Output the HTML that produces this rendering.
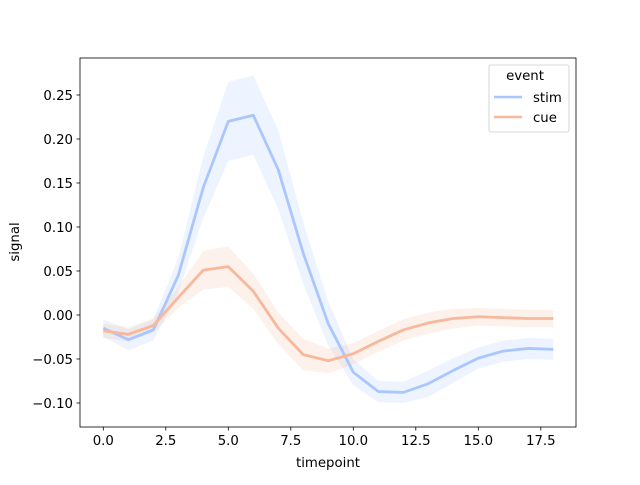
<!DOCTYPE html>
<html><head><meta charset="utf-8"><style>
body{margin:0;background:#fff}
svg text{font-family:"DejaVu Sans","Liberation Sans",sans-serif;font-size:13.3px;fill:#000}
</style></head><body>
<svg id="s" width="640" height="480" xmlns="http://www.w3.org/2000/svg">
<g id="bands"></g>
<g id="lines"></g>
<rect x="80" y="58" width="496" height="369" fill="none" stroke="#000" stroke-width="0.8"/>
<g stroke="#000" stroke-width="0.8">
<line x1="103.3" y1="427" x2="103.3" y2="430.5"/><line x1="165.8" y1="427" x2="165.8" y2="430.5"/><line x1="228.3" y1="427" x2="228.3" y2="430.5"/><line x1="290.8" y1="427" x2="290.8" y2="430.5"/><line x1="353.3" y1="427" x2="353.3" y2="430.5"/><line x1="415.8" y1="427" x2="415.8" y2="430.5"/><line x1="478.3" y1="427" x2="478.3" y2="430.5"/><line x1="540.8" y1="427" x2="540.8" y2="430.5"/>
<line x1="76.5" y1="95" x2="80" y2="95"/><line x1="76.5" y1="139" x2="80" y2="139"/><line x1="76.5" y1="183" x2="80" y2="183"/><line x1="76.5" y1="227" x2="80" y2="227"/><line x1="76.5" y1="271" x2="80" y2="271"/><line x1="76.5" y1="315" x2="80" y2="315"/><line x1="76.5" y1="359" x2="80" y2="359"/><line x1="76.5" y1="403" x2="80" y2="403"/>
</g>
<g text-anchor="middle">
<text x="103.3" y="445">0.0</text><text x="165.8" y="445">2.5</text><text x="228.3" y="445">5.0</text><text x="290.8" y="445">7.5</text><text x="353.3" y="445">10.0</text><text x="415.8" y="445">12.5</text><text x="478.3" y="445">15.0</text><text x="540.8" y="445">17.5</text>
<text x="328" y="467">timepoint</text>
</g>
<g text-anchor="end">
<text x="73" y="100">0.25</text><text x="73" y="144">0.20</text><text x="73" y="188">0.15</text><text x="73" y="232">0.10</text><text x="73" y="276">0.05</text><text x="73" y="320">0.00</text><text x="73" y="364">−0.05</text><text x="73" y="408">−0.10</text>
</g>
<text transform="translate(19,242) rotate(-90)" text-anchor="middle">signal</text>
<rect x="489" y="65" width="80" height="67" rx="2" fill="#fff" fill-opacity="0.8" stroke="#ccc" stroke-width="0.8"/>
<text x="525" y="80" text-anchor="middle">event</text>
<line x1="494" y1="97" x2="522" y2="97" stroke="#aac7fd" stroke-width="2.5"/>
<text x="533" y="102">stim</text>
<line x1="494" y1="117" x2="522" y2="117" stroke="#f7b89c" stroke-width="2.5"/>
<text x="533" y="122">cue</text>
</svg>
<script>
var X=t=>103.3+25*t, Y=v=>315-880*v;
var stim=[-0.015,-0.028,-0.017,0.045,0.145,0.22,0.227,0.165,0.07,-0.01,-0.065,-0.087,-0.088,-0.078,-0.063,-0.049,-0.041,-0.038,-0.039];
var sw=[0.01,0.012,0.012,0.02,0.035,0.045,0.045,0.045,0.035,0.025,0.015,0.012,0.012,0.015,0.014,0.012,0.012,0.012,0.012];
var cue=[-0.018,-0.022,-0.012,0.02,0.051,0.055,0.027,-0.015,-0.045,-0.052,-0.044,-0.03,-0.017,-0.009,-0.004,-0.002,-0.003,-0.004,-0.004];
var cw=[0.008,0.008,0.008,0.012,0.022,0.023,0.02,0.018,0.018,0.014,0.012,0.012,0.012,0.012,0.011,0.01,0.01,0.01,0.01];
var ns="http://www.w3.org/2000/svg";
function add(g,d,a){var p=document.createElementNS(ns,"path");p.setAttribute("d",d);for(var k in a)p.setAttribute(k,a[k]);document.getElementById(g).appendChild(p);}
function series(v,w,c){
 var up=v.map((y,i)=>X(i)+","+Y(y+w[i])), dn=v.map((y,i)=>X(i)+","+Y(y-w[i])).reverse();
 add("bands","M"+up.join("L")+"L"+dn.join("L")+"Z",{fill:c,"fill-opacity":0.2});
 add("lines","M"+v.map((y,i)=>X(i)+","+Y(y)).join("L"),{fill:"none",stroke:c,"stroke-width":2.8,"stroke-linejoin":"round"});
}
series(stim,sw,"#aac7fd");series(cue,cw,"#f7b89c");
</script>
</body></html>
